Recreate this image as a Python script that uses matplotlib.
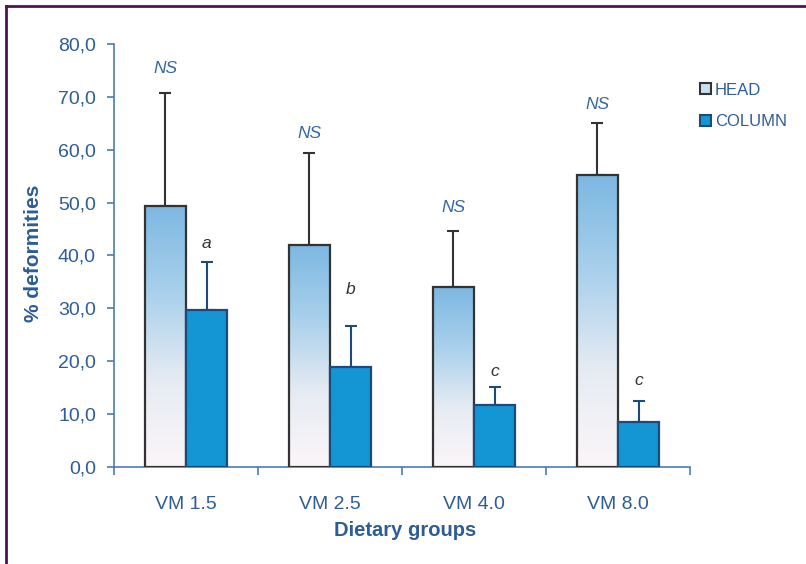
import numpy as np
import matplotlib.pyplot as plt
from matplotlib.colors import LinearSegmentedColormap
from matplotlib.lines import Line2D
from matplotlib.patches import Patch
from matplotlib.ticker import FuncFormatter

# Data
groups = ["VM 1.5", "VM 2.5", "VM 4.0", "VM 8.0"]
head = [49.3, 42.0, 34.0, 55.2]
head_sd = [21.4, 17.4, 10.6, 9.8]
column = [29.7, 18.9, 11.7, 8.5]
column_sd = [9.1, 7.8, 3.4, 4.0]
head_sig = ["NS", "NS", "NS", "NS"]
column_sig = ["a", "b", "c", "c"]

# label heights above the error bars
head_sig_y = [75.4, 63.1, 49.1, 68.6]
column_sig_y = [42.3, 33.6, 18.0, 16.3]

plt.rcParams['font.family'] = ['Liberation Sans', 'DejaVu Sans']
txt = '#2d5c96'
spine = '#4d7bb0'
col_blue = '#1496d4'
col_edge = '#1c4a7a'
head_edge = '#333333'

fig = plt.figure(figsize=(8.06, 5.64), dpi=100)
ax = fig.add_axes([114 / 806, 97 / 564, 576 / 806, 423 / 564])

x = np.arange(len(groups))
w = 0.285
grad = LinearSegmentedColormap.from_list('head', ['#fbf6f8', '#e6ebf3', '#a9d0ec', '#7db8e1'])
g = np.linspace(0, 1, 256).reshape(-1, 1)

for xi, h in zip(x, head):
    ax.imshow(g, cmap=grad, origin='lower', aspect='auto',
              extent=[xi - w, xi, 0, h], zorder=2)
ax.bar(x - w / 2, head, w, facecolor='none', edgecolor=head_edge, lw=1.6, zorder=3)
ax.bar(x + w / 2, column, w, color=col_blue, edgecolor=col_edge, lw=1.6, zorder=3)

ax.errorbar(x - w / 2, head, yerr=[np.zeros(4), head_sd], fmt='none',
            ecolor=head_edge, elinewidth=1.5, capsize=4, capthick=1.5, zorder=1)
ax.errorbar(x + w / 2, column, yerr=[np.zeros(4), column_sd], fmt='none',
            ecolor=col_edge, elinewidth=1.5, capsize=4, capthick=1.5, zorder=1)

for xi, s, yy in zip(x, head_sig, head_sig_y):
    ax.text(xi - w / 2, yy, s, ha='center', va='center', style='italic',
            fontsize=12.5, color='#3566a6')
for xi, s, yy in zip(x, column_sig, column_sig_y):
    ax.text(xi + w / 2, yy, s, ha='center', va='center', style='italic',
            fontsize=12.5, color='#333333')

ax.set_xlim(-0.5, 3.5)
ax.set_ylim(0, 80)
ax.set_yticks(np.arange(0, 81, 10))
ax.yaxis.set_major_formatter(FuncFormatter(lambda v, p: f"{v:.1f}".replace('.', ',')))
ax.set_xticks(x)
ax.set_xticklabels(groups)
ax.set_xticks(np.arange(-0.5, 4, 1), minor=True)
ax.tick_params(axis='x', which='major', length=0, pad=21, labelsize=14, labelcolor=txt)
ax.tick_params(axis='x', which='minor', length=6, width=1.2, color=spine)
ax.tick_params(axis='y', length=5, width=1.2, color=spine, pad=8, labelsize=14, labelcolor=txt)

for s in ['top', 'right']:
    ax.spines[s].set_visible(False)
for s in ['left', 'bottom']:
    ax.spines[s].set_color(spine)
    ax.spines[s].set_linewidth(1.2)

ax.set_ylabel("% deformities", fontsize=15, fontweight='bold', color=txt)
ax.yaxis.set_label_coords(-0.123, 0.504)
ax.set_xlabel("Dietary groups", fontsize=14.5, fontweight='bold', color=txt)
ax.xaxis.set_label_coords(0.505, -0.128)

handles = [Patch(facecolor='#c9e0f2', edgecolor=head_edge, lw=1.5, label='HEAD'),
           Patch(facecolor=col_blue, edgecolor=col_edge, lw=1.5, label='COLUMN')]
leg = fig.legend(handles=handles, loc='upper left', bbox_to_anchor=(693 / 806, 1 - 76 / 564),
                 frameon=False, fontsize=12, handlelength=0.65, handleheight=0.65,
                 handletextpad=0.25, labelspacing=1.0, borderaxespad=0)
for t in leg.get_texts():
    t.set_color(txt)

# outer frame
frame = '#4b1650'
fig.add_artist(Line2D([6 / 806, 1], [1 - 6 / 564, 1 - 6 / 564], color=frame, lw=2))
fig.add_artist(Line2D([6 / 806, 6 / 806], [0, 1 - 6 / 564], color=frame, lw=2))

fig.savefig('out.png', dpi=100)
